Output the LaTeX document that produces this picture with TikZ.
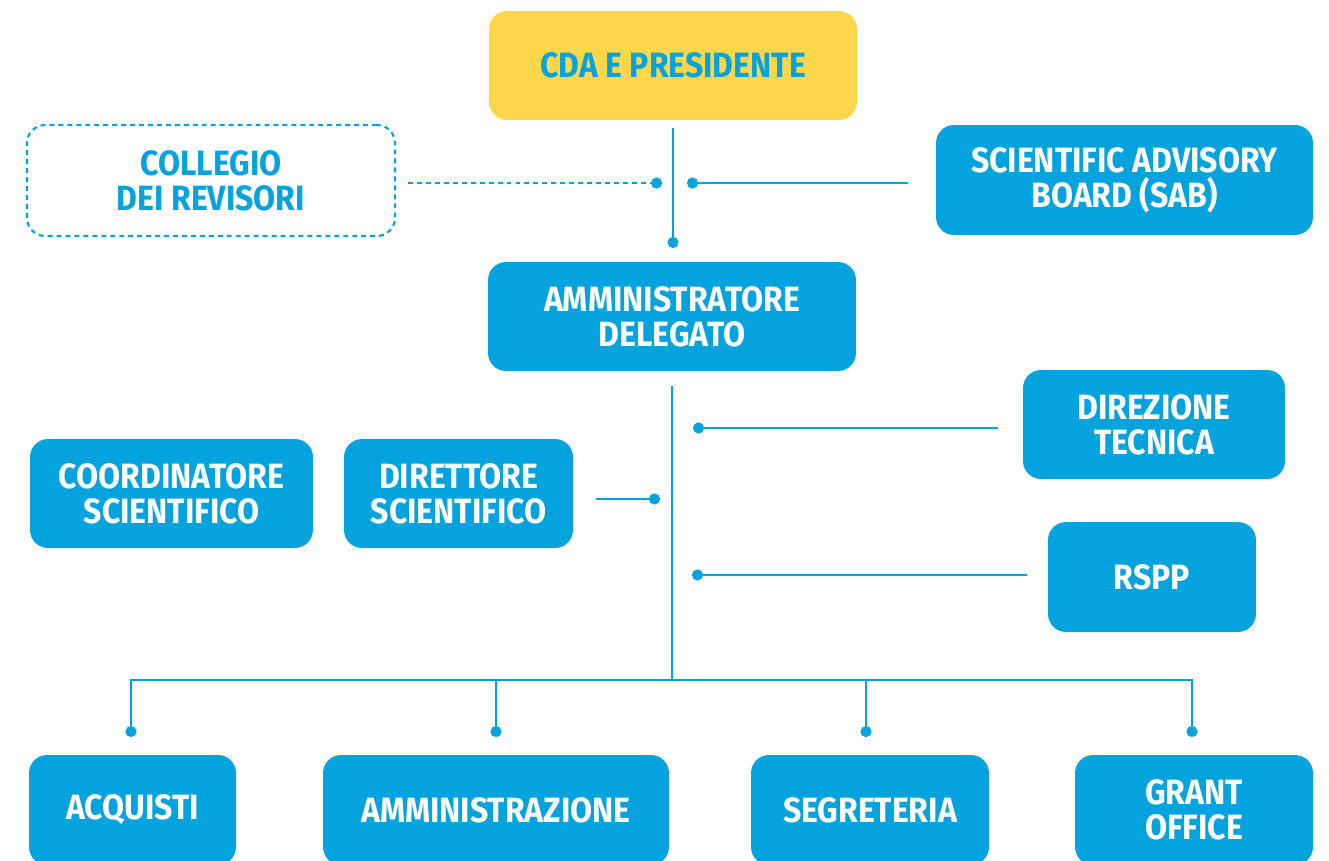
\documentclass[tikz,border=0pt]{standalone}
\usepackage{fontspec}
\usetikzlibrary{arrows.meta}
\newfontfamily\dinfont{Fira Sans}[FakeStretch=0.91]
\definecolor{ttblue}{RGB}{4,163,222}
\definecolor{ttyellow}{RGB}{254,214,74}

\begin{document}
\begin{tikzpicture}[
            x = 0.02cm, y = -0.02cm, % pixel grid, y going down
            > = {Circle[length=0.22cm]}, % dot at the end of a line
            line width = 1.4pt, % line style
            ttblue
        ]

        \tikzstyle{unit}=[
            rectangle,
            rounded corners = 0.36cm,
            fill = ttblue,
            text = white,
            font = \dinfont\bfseries\fontsize{20}{20}\selectfont,
            align = center,
            minimum height = 2.18cm,
            inner sep = 0pt
        ]
        \tikzstyle{board}=[unit, fill = ttyellow, text = ttblue]
        \tikzstyle{audit}=[unit, fill = none, draw = ttblue, text = ttblue,
            line width = 1.2pt, dash pattern = on 2.8pt off 2.3pt]

        \useasboundingbox (0,0) rectangle (1329,860);
        \clip (0,0) rectangle (1329,860);

        \node[board, minimum width=7.36cm] (cda) at (673,65.5) {CDA E PRESIDENTE};
        \node[audit, minimum width=7.36cm, minimum height=2.22cm] (revisori) at (211,180.5) {COLLEGIO\\DEI REVISORI};
        \node[unit, minimum width=7.54cm, minimum height=2.2cm] (sab) at (1124.5,180) {SCIENTIFIC ADVISORY\\BOARD (SAB)};
        \node[unit, minimum width=7.36cm] (ad) at (672,316.5) {AMMINISTRATORE\\DELEGATO};
        \node[unit, minimum width=5.24cm] (tecnica) at (1154,424.5) {DIREZIONE\\TECNICA};
        \node[unit, minimum width=5.66cm] (coord) at (171.5,493.5) {COORDINATORE\\SCIENTIFICO};
        \node[unit, minimum width=4.58cm] (direttore) at (458.5,493.5) {DIRETTORE\\SCIENTIFICO};
        \node[unit, minimum width=4.16cm, minimum height=2.2cm] (rspp) at (1152,577) {RSPP};

        \node[unit, minimum width=4.14cm, minimum height=2.2cm] (acquisti) at (132.5,810) {ACQUISTI};
        \node[unit, minimum width=6.92cm, minimum height=2.2cm] (amministrazione) at (496,810) {AMMINISTRAZIONE};
        \node[unit, minimum width=4.76cm, minimum height=2.2cm] (segreteria) at (870,810) {SEGRETERIA};
        \node[unit, minimum width=4.76cm, minimum height=2.2cm] (grant) at (1194,810) {GRANT\\OFFICE};

        % line ends
        \coordinate (cdaout) at (673,128);
        \coordinate (adin) at (673,248);
        \coordinate (revout) at (408,183);
        \coordinate (revend) at (662,183);
        \coordinate (sabout) at (908,183);
        \coordinate (sabend) at (687,183);
        \coordinate (adout) at (672,386);
        \coordinate (hub) at (672,680);
        \coordinate (tecout) at (998,428);
        \coordinate (tecend) at (693,428);
        \coordinate (dirout) at (596,499);
        \coordinate (dirend) at (660,499);
        \coordinate (rsppout) at (1027,575);
        \coordinate (rsppend) at (692,575);
        \coordinate (acqin) at (131,737);
        \coordinate (ammin) at (496,737);
        \coordinate (segin) at (866,737);
        \coordinate (grantin) at (1192,737);

        \path[->] (cdaout) edge (adin);
        \path[->, dash pattern = on 2.8pt off 2.3pt] (revout) edge (revend);
        \path[->] (sabout) edge (sabend);

        \draw (adout) -- (hub);
        \path[->] (tecout) edge (tecend);
        \path[->] (dirout) edge (dirend);
        \path[->] (rsppout) edge (rsppend);

        \draw[->] (hub) -| (acqin);
        \draw[->] (hub) -| (ammin);
        \draw[->] (hub) -| (segin);
        \draw[->] (hub) -| (grantin);
    \end{tikzpicture}
\end{document}
